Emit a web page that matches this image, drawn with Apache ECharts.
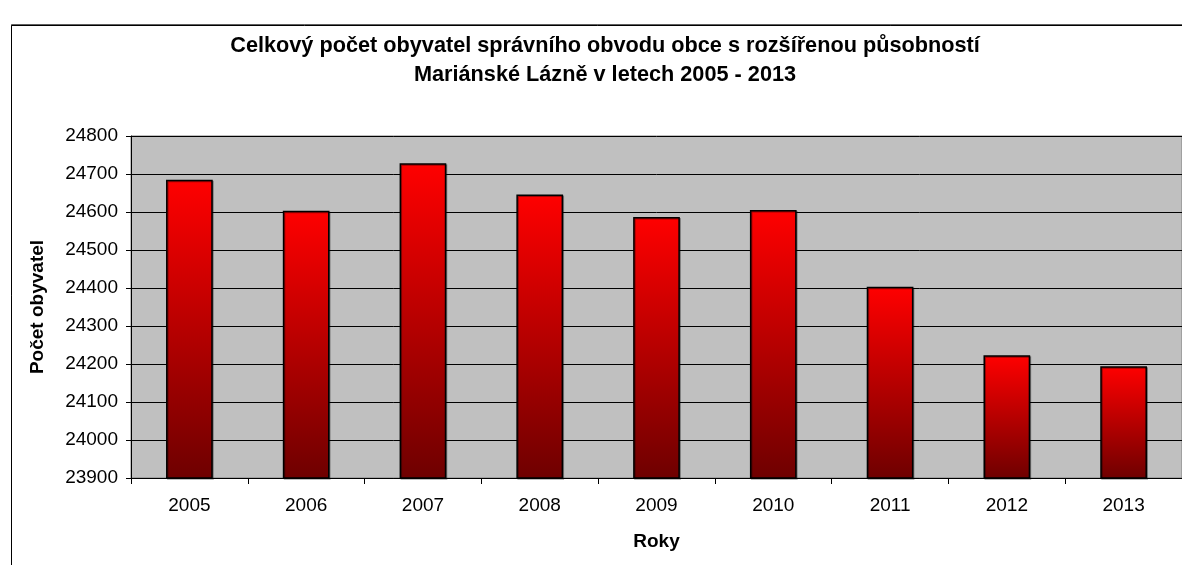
<!DOCTYPE html>
<html>
<head>
<meta charset="utf-8">
<script src="https://cdn.jsdelivr.net/npm/echarts@6/dist/echarts.min.js"></script>
<style>
html,body{margin:0;padding:0;background:#fff;}
#chart{width:1182px;height:565px;}
</style>
</head>
<body>
<div id="chart"></div>
<script>
const titleLines = ['Celkový počet obyvatel správního obvodu obce s rozšířenou působností', 'Mariánské Lázně v letech 2005 - 2013'];
const years = ['2005','2006','2007','2008','2009','2010','2011','2012','2013'];
const population = [24685, 24603, 24728, 24646, 24587, 24605, 24403, 24223, 24194];
const yMin = 23900, yMax = 24800, yStep = 100;
const yName = 'Počet obyvatel';
const xName = 'Roky';

const chart = echarts.init(document.getElementById('chart'), null, {renderer:'canvas'});
const font = 'Liberation Sans, Arial, sans-serif';
chart.setOption({
  animation:false,
  backgroundColor:'#fff',
  graphic:[
    {type:'rect', z:-10, shape:{x:11.5, y:25.5, width:1200, height:600}, style:{fill:'#fff', stroke:'#000', lineWidth:1, shadowColor:'rgba(0,0,0,0.5)', shadowOffsetY:-1, shadowBlur:0}},
    {type:'text', x:605, y:46, style:{text:titleLines[0], font:'bold 21.7px '+font, fill:'#000', align:'center', verticalAlign:'middle'}},
    {type:'text', x:605, y:75, style:{text:titleLines[1], font:'bold 21.7px '+font, fill:'#000', align:'center', verticalAlign:'middle'}}
  ],
  grid:{left:131, top:136, right:-2, bottom:87, show:true, backgroundColor:'#C0C0C0', borderColor:'#808080', borderWidth:1},
  xAxis:{
    type:'category', data:years,
    name:xName, nameLocation:'middle', nameGap:54,
    nameTextStyle:{fontFamily:font, fontSize:19, fontWeight:'bold', color:'#000'},
    axisLine:{lineStyle:{color:'#000', width:1}},
    axisTick:{show:true, alignWithLabel:false, length:6, lineStyle:{color:'#000'}},
    axisLabel:{fontFamily:font, fontSize:19, color:'#000', margin:18}
  },
  yAxis:{
    type:'value', min:yMin, max:yMax, interval:yStep,
    name:yName, nameLocation:'middle', nameGap:84, nameRotate:90,
    nameTextStyle:{fontFamily:font, fontSize:19, fontWeight:'bold', color:'#000'},
    axisLine:{show:true, lineStyle:{color:'#000', width:1}},
    axisTick:{show:true, length:5, lineStyle:{color:'#000'}},
    axisLabel:{fontFamily:font, fontSize:19, color:'#000', margin:13, formatter:v => String(v)},
    splitLine:{show:true, lineStyle:{color:'#000', width:1}}
  },
  series:[{
    type:'bar', data:population, barWidth:'40%',
    itemStyle:{
      color:new echarts.graphic.LinearGradient(0,0,0,1,[{offset:0,color:'#FF0000'},{offset:1,color:'#6E0000'}]),
      borderColor:'#000', borderWidth:1.5,
      shadowColor:'rgba(0,0,0,0.35)', shadowOffsetX:1, shadowOffsetY:1
    }
  }]
});
</script>
</body>
</html>
